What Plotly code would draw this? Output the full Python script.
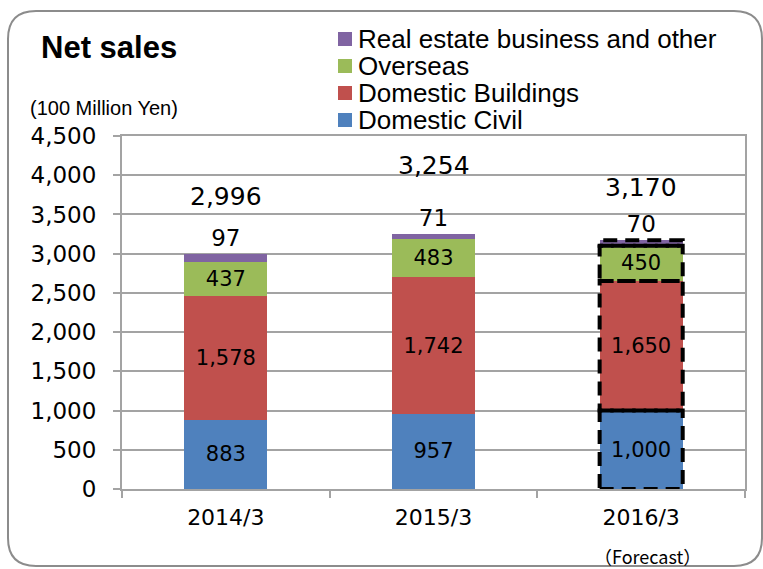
import plotly.graph_objects as go

categories = ["2014/3", "2015/3", "2016/3"]
domestic_civil = [883, 957, 1000]
domestic_buildings = [1578, 1742, 1650]
overseas = [437, 483, 450]
real_estate = [97, 71, 70]
totals = [2996, 3254, 3170]
series_names = ["Domestic Civil", "Domestic Buildings", "Overseas", "Real estate business and other"]
colors = ["#4F81BD", "#C0504D", "#9BBB59", "#8064A2"]
y_ticks = list(range(0, 4501, 500))
forecast_index = 2

# layout geometry (pixels)
W, H = 763, 569
L, R, T, B = 122, 745, 136, 489


def px_x(p):
    return (p - L) / (R - L)


def px_y(p):
    return (B - p) / (B - T)


NUM_FONT = "DejaVu Sans"
TXT_FONT = "Liberation Sans, Arial, sans-serif"
GRID = "#a3a3a3"
BAR_W = 0.4

series = [domestic_civil, domestic_buildings, overseas, real_estate]

fig = go.Figure()
for i, (name, vals, col) in enumerate(zip(series_names, series, colors)):
    top = i == len(series) - 1
    fig.add_trace(go.Bar(
        x=categories, y=vals, name=name,
        marker=dict(color=col, line=dict(width=0)),
        width=BAR_W,
        texttemplate="%{y}" if top else "%{y:,}",
        textposition="outside" if top else "inside",
        insidetextanchor="middle",
        textangle=0,
        constraintext="none",
        insidetextfont=dict(family=NUM_FONT, size=21, color="black"),
        outsidetextfont=dict(family=NUM_FONT, size=23, color="black"),
        cliponaxis=False,
        showlegend=False,
    ))

shapes = []
# dashed outlines around forecast bar segments
base = 0
for vals in series:
    v = vals[forecast_index]
    shapes.append(dict(type="rect", xref="x", yref="y",
                       x0=forecast_index - BAR_W / 2, x1=forecast_index + BAR_W / 2,
                       y0=base, y1=base + v,
                       line=dict(color="black", width=4, dash="14px,8px"),
                       fillcolor="rgba(0,0,0,0)", layer="above"))
    base += v

# rounded outer frame
x0, x1, y0, y1, r = 8, 762, 11, 566, 28
pts = [
    ("M", [(x0 + r, y0)]), ("L", [(x1 - r, y0)]), ("Q", [(x1, y0), (x1, y0 + r)]),
    ("L", [(x1, y1 - r)]), ("Q", [(x1, y1), (x1 - r, y1)]),
    ("L", [(x0 + r, y1)]), ("Q", [(x0, y1), (x0, y1 - r)]),
    ("L", [(x0, y0 + r)]), ("Q", [(x0, y0), (x0 + r, y0)]),
]
path = " ".join(cmd + " " + " ".join(f"{px_x(a):.5f},{px_y(b):.5f}" for a, b in p) for cmd, p in pts) + " Z"
shapes.append(dict(type="path", xref="paper", yref="paper", path=path,
                   line=dict(color="#8c8c8c", width=2), layer="below"))

# manual legend (top-down: reversed order)
legend_y = [39, 66, 93, 120]
annotations = []
for k, idx in enumerate(reversed(range(len(series_names)))):
    cy = legend_y[k]
    shapes.append(dict(type="rect", xref="paper", yref="paper",
                       x0=px_x(338), x1=px_x(352), y0=px_y(cy + 7), y1=px_y(cy - 7),
                       fillcolor=colors[idx], line=dict(width=0)))
    annotations.append(dict(xref="paper", yref="paper", x=px_x(356), y=px_y(cy),
                            xanchor="left", yanchor="middle", showarrow=False,
                            text=series_names[idx],
                            font=dict(family=TXT_FONT, size=26, color="black")))

# totals
total_shift = [57, 68, 53]
for c, t, s in zip(categories, totals, total_shift):
    annotations.append(dict(x=c, y=t, xref="x", yref="y", yshift=s, showarrow=False,
                            text=f"{t:,}", xanchor="center", yanchor="middle",
                            font=dict(family=NUM_FONT, size=25, color="black")))

annotations += [
    dict(xref="paper", yref="paper", x=px_x(39), y=px_y(47), xanchor="left", yanchor="middle",
         showarrow=False, text="<b>Net sales</b>",
         font=dict(family=TXT_FONT, size=31, color="black")),
    dict(xref="paper", yref="paper", x=px_x(28), y=px_y(108), xanchor="left", yanchor="middle",
         showarrow=False, text="(100 Million Yen)",
         font=dict(family=TXT_FONT, size=20, color="black")),
    dict(xref="x", yref="paper", x=categories[forecast_index], y=px_y(556), xshift=6,
         xanchor="center", yanchor="middle", showarrow=False, text="（Forecast）",
         font=dict(family="Noto Sans CJK JP, " + TXT_FONT, size=18, color="black")),
]

fig.update_layout(
    width=W, height=H,
    margin=dict(l=L, r=W - R, t=T, b=H - B, pad=0),
    paper_bgcolor="white", plot_bgcolor="white",
    barmode="stack", bargap=0.6,
    showlegend=False,
    shapes=shapes, annotations=annotations,
    xaxis=dict(type="category", tickson="boundaries", ticks="outside", ticklen=7,
               tickcolor=GRID, tickwidth=2, showline=True, linecolor=GRID, linewidth=2,
               mirror=True, showgrid=False, ticklabelstandoff=8,
               tickfont=dict(family=NUM_FONT, size=22, color="black")),
    yaxis=dict(range=[0, 4500], tickvals=y_ticks, tickformat=",", ticks="outside",
               ticklen=7, tickcolor=GRID, tickwidth=2, showline=True, linecolor=GRID,
               linewidth=2, mirror=True, showgrid=True, gridcolor=GRID, gridwidth=2,
               zeroline=False, ticklabelstandoff=12,
               tickfont=dict(family=NUM_FONT, size=23, color="black")),
)

fig.write_html("out.html", config={"displayModeBar": False},
               post_script="document.body.style.margin='0px';")
